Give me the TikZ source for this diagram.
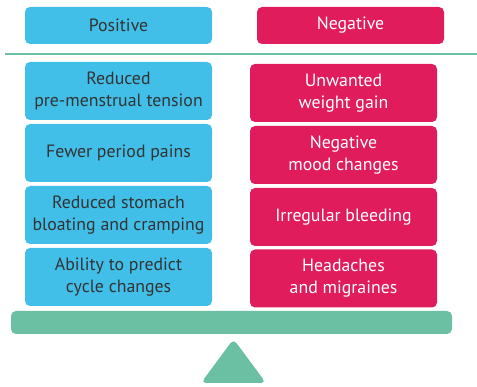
\documentclass[tikz,border=0pt]{standalone}
\usepackage{fontspec}
\setmainfont{PT Sans}
\definecolor{posblue}{HTML}{42BFE8}
\definecolor{negpink}{HTML}{E01C5C}
\definecolor{scalegreen}{HTML}{6BBFA3}
\definecolor{darktext}{HTML}{333333}
\begin{document}
\begin{tikzpicture}[x=1pt,y=-1pt,
  box/.style={rounded corners=5pt, minimum width=187pt, minimum height=58pt, inner sep=0pt, align=center, font=\fontsize{17.8}{22}\selectfont},
  posbox/.style={box, fill=posblue, text=darktext},
  negbox/.style={box, fill=negpink, text=white},
  head/.style={minimum height=37pt}]
\useasboundingbox (0,0) rectangle (477,387);
% headers
\node[posbox, head] (pos) at (118.5,25.5) {Positive};
\node[negbox, head] (neg) at (350.5,25.5) {Negative};
% divider
\draw[scalegreen, line width=2.2pt] (5,54) -- (477,54);
% left boxes
\node[posbox] (p1) at (118.5,91) {Reduced\\pre-menstrual tension};
\node[posbox] (p2) at (118.5,153) {Fewer period pains};
\node[posbox] (p3) at (118.5,215) {Reduced stomach\\bloating and cramping};
\node[posbox] (p4) at (118.5,277) {Ability to predict\\cycle changes};
% right boxes
\node[negbox] (n1) at (343.5,93) {Unwanted\\weight gain};
\node[negbox] (n2) at (343.5,155) {Negative\\mood changes};
\node[negbox] (n3) at (343.5,217) {Irregular bleeding};
\node[negbox] (n4) at (343.5,278.5) {Headaches\\and migraines};
% beam
\fill[scalegreen, rounded corners=5pt] (11,311) rectangle (452,334);
% fulcrum
\fill[scalegreen, rounded corners=5pt] (233.5,339) -- (266,383) -- (201,383) -- cycle;
\end{tikzpicture}
\end{document}
